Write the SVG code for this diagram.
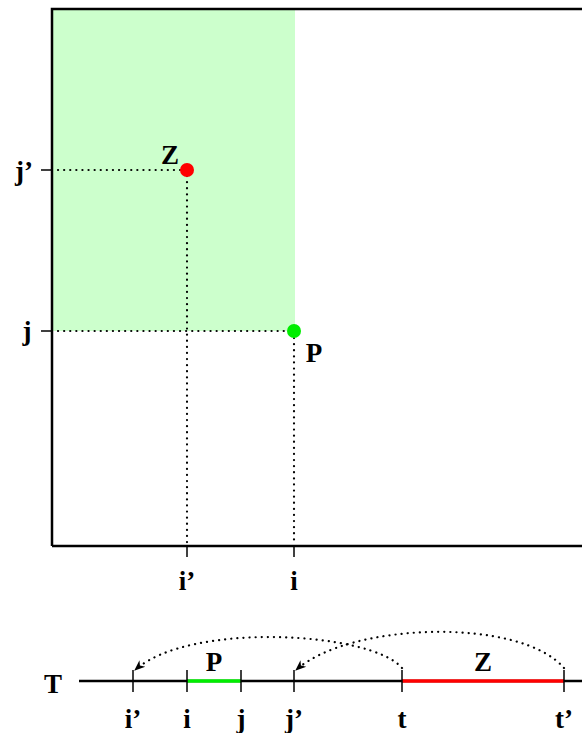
<svg xmlns="http://www.w3.org/2000/svg" width="582" height="733" viewBox="0 0 582 733">
<style>
.lbl{font-family:"Liberation Serif","DejaVu Serif",serif;font-weight:bold;font-size:27px;fill:#000;text-anchor:middle}
.dot{stroke:#000;stroke-width:2.2;stroke-dasharray:0.1 6;stroke-linecap:round;fill:none}
.tick{stroke:#000;stroke-width:1.5}
.axis{stroke:#000;stroke-width:2.5;fill:none}
</style>
<defs>
<marker id="ah" viewBox="0 0 10 10" refX="9" refY="5" markerWidth="11" markerHeight="11" markerUnits="userSpaceOnUse" orient="auto">
<path d="M0,1 L10,5 L0,9 L3,5 Z" fill="#000"/>
</marker>
</defs>
<g id="region">
<rect x="52" y="9" width="243" height="322" fill="#ccffcc"/>
</g>
<g id="frame">
<path class="axis" d="M52,546 L52,9 L582,9"/>
<path class="axis" d="M52,546 L582,546"/>
</g>
<g id="connectors">
<path class="dot" d="M58,170 L184,170"/>
<path class="dot" d="M187,176 L187,544"/>
<path class="dot" d="M58,331 L290,331"/>
<path class="dot" d="M294,338 L294,544"/>
<line class="tick" x1="41" y1="170" x2="52" y2="170"/>
<line class="tick" x1="41" y1="331" x2="52" y2="331"/>
<line class="tick" x1="187" y1="546" x2="187" y2="557"/>
<line class="tick" x1="294" y1="546" x2="294" y2="557"/>
<path class="dot" d="M402,668 C372,632 190,621 135,670" marker-end="url(#ah)"/>
<path class="dot" d="M564,668 C520,617 350,622 296,670" marker-end="url(#ah)"/>
</g>
<g id="Z">
<circle cx="187" cy="170" r="7" fill="#ff0000"/>
<text class="lbl" x="170" y="164">Z</text>
</g>
<g id="P">
<circle cx="294" cy="331" r="7" fill="#00ee00"/>
<text class="lbl" x="314" y="362">P</text>
</g>
<g id="axis-labels">
<text class="lbl" x="24" y="180">j’</text>
<text class="lbl" x="27" y="340">j</text>
<text class="lbl" x="187" y="590">i’</text>
<text class="lbl" x="294" y="590">i</text>
</g>
<g id="T">
<text class="lbl" x="53" y="693">T</text>
<line class="axis" x1="79" y1="681" x2="582" y2="681"/>
<line x1="187" y1="681" x2="241" y2="681" stroke="#00ee00" stroke-width="3.5"/>
<line x1="402" y1="681" x2="564" y2="681" stroke="#ff0000" stroke-width="3.5"/>
<line class="tick" x1="133" y1="670" x2="133" y2="692"/>
<line class="tick" x1="187" y1="670" x2="187" y2="692"/>
<line class="tick" x1="241" y1="670" x2="241" y2="692"/>
<line class="tick" x1="294" y1="670" x2="294" y2="692"/>
<line class="tick" x1="402" y1="670" x2="402" y2="692"/>
<line class="tick" x1="564" y1="670" x2="564" y2="692"/>
<text class="lbl" x="214" y="671">P</text>
<text class="lbl" x="483" y="671">Z</text>
<text class="lbl" x="133" y="728">i’</text>
<text class="lbl" x="187" y="728">i</text>
<text class="lbl" x="241" y="728">j</text>
<text class="lbl" x="294" y="728">j’</text>
<text class="lbl" x="402" y="728">t</text>
<text class="lbl" x="564" y="728">t’</text>
</g>
</svg>
